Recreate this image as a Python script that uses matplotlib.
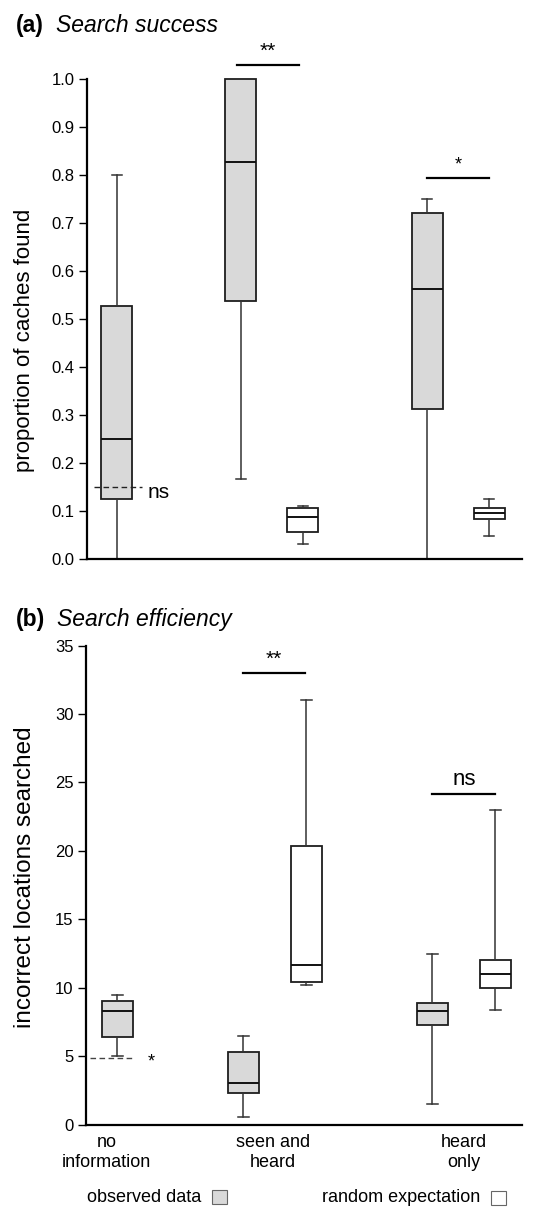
import matplotlib
matplotlib.use("Agg")
import matplotlib.pyplot as plt
from matplotlib.patches import Rectangle

plt.rcParams['font.family'] = ['Liberation Sans', 'DejaVu Sans']

# box order: no info (obs), seen+heard (obs, random), heard only (obs, random)
positions = [0, 2, 3, 5, 6]
observed = [True, True, False, True, False]
group_labels = ['no\ninformation', 'seen and\nheard', 'heard\nonly']

# (a) search success: proportion of caches found
a_whislo = [0.0, 0.167, 0.031, 0.0, 0.047]
a_q1 = [0.125, 0.538, 0.055, 0.313, 0.082]
a_med = [0.250, 0.826, 0.086, 0.562, 0.095]
a_q3 = [0.526, 1.0, 0.106, 0.720, 0.106]
a_whishi = [0.80, 1.0, 0.110, 0.750, 0.125]
a_chance = 0.15
a_chance_label = 'ns'
a_sig_labels = ['**', '*']
a_sig_y = [1.03, 0.794]
a_sig_from = [1.94, 5.0]
a_sig_to = [2.94, 6.0]

# (b) search efficiency: incorrect locations searched
b_whislo = [5.0, 0.55, 10.2, 1.5, 8.4]
b_q1 = [6.4, 2.3, 10.45, 7.3, 10.0]
b_med = [8.3, 3.05, 11.7, 8.3, 11.0]
b_q3 = [9.0, 5.3, 20.35, 8.9, 12.0]
b_whishi = [9.5, 6.5, 31.0, 12.5, 23.0]
b_chance = 4.87
b_chance_label = '*'
b_sig_labels = ['**', 'ns']
b_sig_y = [33.0, 24.15]
b_sig_from = [2.0, 5.0]
b_sig_to = [2.97, 6.0]

OBS_FILL = '#d9d9d9'
EDGE = '#1e1e1e'
WHISK = '#333333'


def draw_boxes(ax, lo, q1, med, q3, hi):
    for i, pos in enumerate(positions):
        st = dict(whislo=lo[i], q1=q1[i], med=med[i], q3=q3[i], whishi=hi[i], fliers=[])
        arts = ax.bxp([st], positions=[pos], widths=0.5, capwidths=[0.17],
                      patch_artist=True, showfliers=False, manage_ticks=False,
                      boxprops=dict(facecolor=OBS_FILL if observed[i] else 'white',
                                    edgecolor=EDGE, linewidth=1.3),
                      medianprops=dict(color='#111111', linewidth=1.4),
                      whiskerprops=dict(color=WHISK, linewidth=1.1),
                      capprops=dict(color=WHISK, linewidth=1.1))
        for group in arts.values():
            for a in group:
                a.set_clip_on(False)


def draw_sig(ax, labels, ys, x0s, x1s, offset, sizes):
    for lab, y, x0, x1, fs in zip(labels, ys, x0s, x1s, sizes):
        ax.plot([x0, x1], [y, y], color='black', lw=1.6, clip_on=False)
        ax.text((x0 + x1) / 2, y + offset, lab, ha='center', va='bottom',
                fontsize=fs, clip_on=False)


def style_axes(ax):
    for s in ('top', 'right'):
        ax.spines[s].set_visible(False)
    for s in ('left', 'bottom'):
        ax.spines[s].set_linewidth(1.6)
    ax.tick_params(axis='y', direction='out', length=6, width=1.0, labelsize=12, pad=3)
    ax.tick_params(axis='x', length=0)


fig = plt.figure(figsize=(5.36, 12.07), dpi=100)

# ---- panel (a)
ax1 = fig.add_axes([0.1623, 0.5371, 0.8116, 0.3975])
draw_boxes(ax1, a_whislo, a_q1, a_med, a_q3, a_whishi)
ax1.set_ylim(0, 1.0)
ax1.set_xlim(-0.48, 6.53)
ax1.set_yticks([i / 10 for i in range(11)])
ax1.set_yticklabels([f'{i / 10:.1f}' for i in range(11)])
ax1.set_xticks([])
style_axes(ax1)
fig.text(25 / 536, 1 - 340 / 1207, 'proportion of caches found', fontsize=16,
         rotation=90, ha='center', va='center')
ax1.plot([-0.37, 0.40], [a_chance, a_chance], ls=(0, (4, 2.5)), color='#222222', lw=1.0)
ax1.text(0.49, a_chance - 0.012, a_chance_label, fontsize=15, ha='left', va='center')
draw_sig(ax1, a_sig_labels, a_sig_y, a_sig_from, a_sig_to, 0.008, [15, 13])

# ---- panel (b)
ax2 = fig.add_axes([0.1604, 0.0682, 0.8134, 0.3969])
draw_boxes(ax2, b_whislo, b_q1, b_med, b_q3, b_whishi)
ax2.set_ylim(0, 35)
ax2.set_xlim(-0.50, 6.42)
ax2.set_yticks(range(0, 36, 5))
ax2.set_xticks([-0.17, 2.47, 5.5])
ax2.set_xticklabels(group_labels, fontsize=13, linespacing=1.22)
style_axes(ax2)
ax2.tick_params(axis='x', pad=7)
fig.text(25 / 536, 1 - 877 / 1207, 'incorrect locations searched', fontsize=17.5,
         rotation=90, ha='center', va='center')
ax2.plot([-0.43, 0.23], [b_chance, b_chance], ls=(0, (4, 2.5)), color='#444444', lw=1.0)
ax2.text(0.48, b_chance - 0.3, b_chance_label, fontsize=13, ha='left', va='center')
draw_sig(ax2, b_sig_labels, b_sig_y, b_sig_from, b_sig_to, 0.3, [15, 16])

# ---- panel titles
fig.text(16 / 536, 1 - 32 / 1207, '(a)', fontsize=16.5, fontweight='bold', va='baseline')
fig.text(56 / 536, 1 - 32 / 1207, 'Search success', fontsize=16.5, fontstyle='italic', va='baseline')
fig.text(16 / 536, 1 - 626 / 1207, '(b)', fontsize=16.5, fontweight='bold', va='baseline')
fig.text(57 / 536, 1 - 626 / 1207, 'Search efficiency', fontsize=16.5, fontstyle='italic', va='baseline')

# ---- legend
base = 1 - 1202 / 1207
fig.text(201 / 536, base, 'observed data', fontsize=13, ha='right', va='baseline')
fig.text(480 / 536, base, 'random expectation', fontsize=13, ha='right', va='baseline')
fig.patches.append(Rectangle((212 / 536, 1 - 1204 / 1207), 15 / 536, 14 / 1207,
                             transform=fig.transFigure, facecolor=OBS_FILL,
                             edgecolor='#666666', lw=0.8))
fig.patches.append(Rectangle((491 / 536, 1 - 1205 / 1207), 15 / 536, 14 / 1207,
                             transform=fig.transFigure, facecolor='white',
                             edgecolor='#666666', lw=0.8))

fig.savefig('out.png', dpi=100)
